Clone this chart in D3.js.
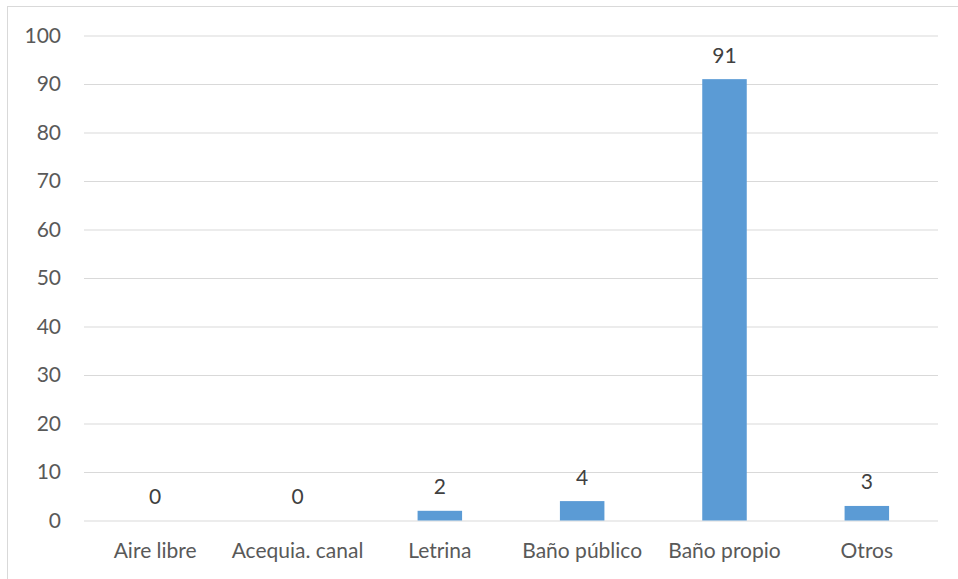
<!DOCTYPE html>
<html>
<head>
<meta charset="utf-8">
<script src="https://cdn.jsdelivr.net/npm/d3@7"></script>
<style>
  html, body { margin: 0; padding: 0; background: #fff; }
  svg { display: block; }
  text { font-family: Lato, "Open Sans", sans-serif; }
</style>
</head>
<body>
<svg id="chart" width="958" height="579"></svg>
<script>
// Tipo de servicio higiénico (%)
const categories = ["Aire libre", "Acequia. canal", "Letrina", "Baño público", "Baño propio", "Otros"];
const values = [0, 0, 2, 4, 91, 3];
const yTicks = [0, 10, 20, 30, 40, 50, 60, 70, 80, 90, 100];

const svg = d3.select("#chart");
const W = 958, H = 579;
const plot = { left: 84, right: 938, top: 35.5, bottom: 520.5 };
const FONT = "Lato, 'Open Sans', sans-serif";
const FS = "21px";

// chart frame
svg.append("rect")
  .attr("x", 7.5).attr("y", 6.5)
  .attr("width", W + 10).attr("height", H + 10)
  .attr("fill", "#fff").attr("stroke", "#d9d9d9").attr("stroke-width", 1);

const x = d3.scaleBand().domain(categories).range([plot.left, plot.right]).paddingInner(0.69).paddingOuter(0.345);
const y = d3.scaleLinear().domain([0, 100]).range([plot.bottom, plot.top]);

// gridlines + y labels
const yAxis = d3.axisLeft(y).tickValues(yTicks).tickSize(-(plot.right - plot.left)).tickPadding(23);
const gy = svg.append("g").attr("transform", `translate(${plot.left},0)`).call(yAxis);
gy.select(".domain").remove();
gy.selectAll(".tick line").attr("stroke", "#d9d9d9").attr("stroke-width", 1);
gy.selectAll(".tick text").attr("fill", "#595959").style("font-size", FS).style("font-family", FONT);

// x labels
const xAxis = d3.axisBottom(x).tickSize(0).tickPadding(23);
const gx = svg.append("g").attr("transform", `translate(0,${plot.bottom})`).call(xAxis);
gx.select(".domain").remove();
gx.selectAll(".tick text").attr("fill", "#595959").style("font-size", FS).style("font-family", FONT);

// bars
const barW = 44.5;
svg.append("g").selectAll("rect").data(values).join("rect")
  .attr("x", (d, i) => x(categories[i]) + x.bandwidth() / 2 - barW / 2)
  .attr("width", barW)
  .attr("y", d => y(d))
  .attr("height", d => y(0) - y(d))
  .attr("fill", "#5b9bd5");

// value labels
svg.append("g").selectAll("text").data(values).join("text")
  .attr("x", (d, i) => x(categories[i]) + x.bandwidth() / 2)
  .attr("y", d => y(d) - 16.5)
  .attr("text-anchor", "middle")
  .attr("fill", "#404040")
  .style("font-size", FS)
  .style("font-family", FONT)
  .text(d => d);
</script>
</body>
</html>
